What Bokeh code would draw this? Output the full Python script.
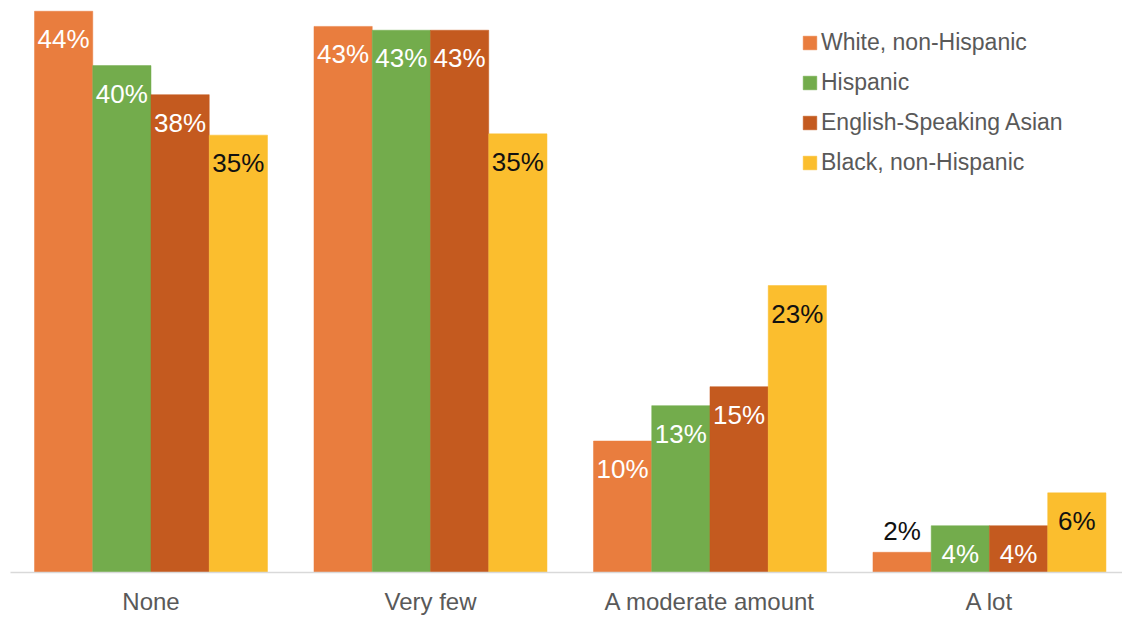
from bokeh.plotting import figure
from bokeh.models import ColumnDataSource, Range1d, FixedTicker, Legend, LegendItem
from bokeh.core.properties import value
from bokeh.embed import file_html
from bokeh.resources import INLINE

categories = ["None", "Very few", "A moderate amount", "A lot"]
series = ["White, non-Hispanic", "Hispanic", "English-Speaking Asian", "Black, non-Hispanic"]
white = [44.4, 43.2, 10.4, 1.6]
hispanic = [40.1, 42.9, 13.2, 3.7]
asian = [37.8, 42.9, 14.7, 3.7]
black = [34.6, 34.7, 22.7, 6.3]
values = [white, hispanic, asian, black]

colors = ["#E97D3E", "#73AC4C", "#C45A1F", "#FBBE2E"]
inside_label_colors = ["#FFFFFF", "#FFFFFF", "#FFFFFF", "#111111"]
FONT = "Liberation Sans"

bar_w = 0.2084
p = figure(width=1122, height=617,
           x_range=Range1d(-0.5027, 3.476), y_range=Range1d(0, 45.25),
           output_backend="svg", toolbar_location=None,
           y_axis_location=None,
           min_border_left=10, min_border_right=0, min_border_top=0, min_border_bottom=45)
p.outline_line_color = None
p.xgrid.visible = False
p.ygrid.visible = False
p.background_fill_color = "white"
p.border_fill_color = "white"

items = []
for i, (name, vals) in enumerate(zip(series, values)):
    xs = [c + (i - 1.5) * bar_w for c in range(len(categories))]
    src = ColumnDataSource(dict(x=xs, top=vals))
    r = p.vbar(x="x", top="top", width=bar_w, source=src,
               fill_color=colors[i], line_color=colors[i], line_width=0.5)
    items.append(LegendItem(label=name, renderers=[r]))

    inside = [j for j, v in enumerate(vals) if v >= 3]
    outside = [j for j, v in enumerate(vals) if v < 3]
    src_in = ColumnDataSource(dict(x=[xs[j] for j in inside], y=[vals[j] for j in inside],
                                   t=[f"{round(vals[j])}%" for j in inside]))
    p.text(x="x", y="y", text="t", source=src_in, text_align="center", text_baseline="top",
           y_offset=13, text_color=inside_label_colors[i], text_font=value(FONT),
           text_font_size="26px")
    if outside:
        src_out = ColumnDataSource(dict(x=[xs[j] for j in outside], y=[vals[j] for j in outside],
                                        t=[f"{round(vals[j])}%" for j in outside]))
        p.text(x="x", y="y", text="t", source=src_out, text_align="center", text_baseline="bottom",
               y_offset=-6, text_color="#111111", text_font=value(FONT), text_font_size="26px")

ax = p.xaxis[0]
ax.ticker = FixedTicker(ticks=list(range(len(categories))))
ax.major_label_overrides = {i: c for i, c in enumerate(categories)}
ax.axis_line_color = "#D9D9D9"
ax.axis_line_width = 1.5
ax.major_tick_line_color = None
ax.minor_tick_line_color = None
ax.major_tick_out = 0
ax.major_tick_in = 0
ax.major_label_standoff = 15
ax.major_label_text_font = FONT
ax.major_label_text_font_size = "24px"
ax.major_label_text_color = "#595959"

legend = Legend(items=items, location=(791, 396), orientation="vertical",
                glyph_width=17, glyph_height=17, label_standoff=3,
                label_text_font=FONT, label_text_font_size="23px", label_text_color="#595959",
                label_height=27, spacing=13, padding=0, margin=0,
                border_line_color=None, background_fill_alpha=0)
p.add_layout(legend)

open("out.html", "w").write(file_html(p, INLINE))
